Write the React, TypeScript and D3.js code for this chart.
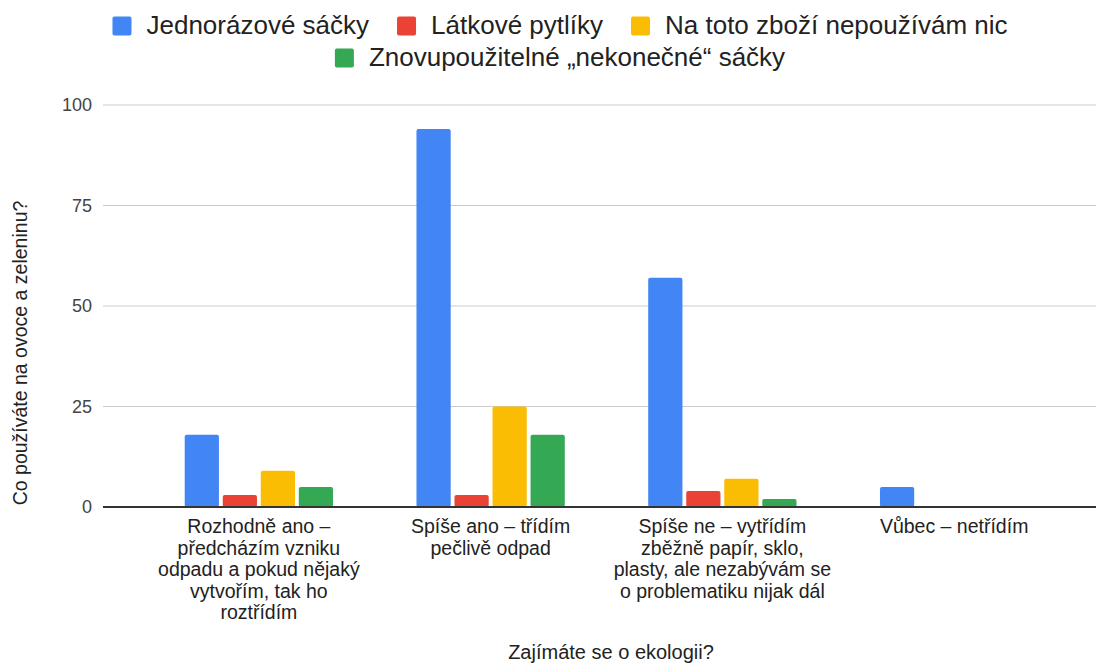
import React from "react";
import * as d3 from "d3";

const categories = [
  ["Rozhodně ano –", "předcházím vzniku", "odpadu a pokud nějaký", "vytvořím, tak ho", "roztřídím"],
  ["Spíše ano – třídím", "pečlivě odpad"],
  ["Spíše ne – vytřídím", "zběžně papír, sklo,", "plasty, ale nezabývám se", "o problematiku nijak dál"],
  ["Vůbec – netřídím"],
];
const seriesNames = [
  "Jednorázové sáčky",
  "Látkové pytlíky",
  "Na toto zboží nepoužívám nic",
  "Znovupoužitelné „nekonečné“ sáčky",
];
const seriesColors = ["#4285F4", "#EA4335", "#FBBC04", "#34A853"];
const jednorazove = [18, 94, 57, 5];
const latkove = [3, 3, 4, 0];
const nic = [9, 25, 7, 0];
const znovu = [5, 18, 2, 0];
const yTicks = [0, 25, 50, 75, 100];
const xTitle = "Zajímáte se o ekologii?";
const yTitle = "Co používáte na ovoce a zeleninu?";

const W = 1098;
const H = 664;
const FONT = "'Liberation Sans', Arial, sans-serif";

let ctx: CanvasRenderingContext2D | null = null;
function measure(text: string, size: number) {
  if (!ctx) ctx = document.createElement("canvas").getContext("2d");
  if (!ctx) return text.length * size * 0.5;
  ctx.font = `${size}px ${FONT}`;
  return ctx.measureText(text).width;
}

export default function App() {
  const series = [jednorazove, latkove, nic, znovu];
  const groups = categories.map((_, i) => i);

  const x = d3.scaleBand<number>().domain(groups).range([143, 1070]).paddingInner(0.36).paddingOuter(0.18);
  const xInner = d3.scaleBand<number>().domain(d3.range(series.length)).range([0, x.bandwidth()]).paddingInner(0.1);
  const y = d3.scaleLinear().domain([0, 100]).range([507, 105]);

  const gridX0 = 103;
  const gridX1 = 1096;

  // legend layout
  const legSize = 26;
  const sq = 19;
  const gapText = 15;
  const gapItem = 28;
  const rows = [[0, 1, 2], [3]];
  const rowY = [26, 58];
  const legendCenter = 560;
  const legendItems: { i: number; x: number; cy: number }[] = [];
  rows.forEach((row, r) => {
    const widths = row.map((i) => sq + gapText + measure(seriesNames[i], legSize));
    const total = d3.sum(widths) + gapItem * (row.length - 1);
    let cx = legendCenter - total / 2;
    row.forEach((i, k) => {
      legendItems.push({ i, x: cx, cy: rowY[r] });
      cx += widths[k] + gapItem;
    });
  });

  return (
    <div style={{ position: "absolute", left: 0, top: 0, width: W, height: H, background: "#fff" }}>
      <svg width={W} height={H} style={{ display: "block", fontFamily: FONT }}>
        <rect width={W} height={H} fill="#fff" />

        {/* legend */}
        {legendItems.map((d) => (
          <g key={d.i}>
            <rect x={d.x} y={d.cy - sq / 2} width={sq} height={sq} rx={2} fill={seriesColors[d.i]} />
            <text x={d.x + sq + gapText} y={d.cy + 8} fontSize={legSize} fill="#222">
              {seriesNames[d.i]}
            </text>
          </g>
        ))}

        {/* gridlines */}
        {yTicks.filter((t) => t !== 0).map((t) => (
          <line key={t} x1={gridX0} x2={gridX1} y1={y(t)} y2={y(t)} stroke="#cccccc" strokeWidth={1} />
        ))}
        {yTicks.map((t) => (
          <text key={t} x={92} y={y(t) + 6} textAnchor="end" fontSize={18} fill="#444">
            {t}
          </text>
        ))}

        {/* bars */}
        {groups.map((g) => (
          <g key={g} transform={`translate(${x(g)},0)`}>
            {series.map((s, k) =>
              s[g] > 0 ? (
                <rect
                  key={k}
                  x={xInner(k)}
                  y={y(s[g])}
                  width={xInner.bandwidth()}
                  height={y(0) - y(s[g])}
                  rx={2}
                  fill={seriesColors[k]}
                />
              ) : null
            )}
          </g>
        ))}

        {/* baseline */}
        <line x1={gridX0} x2={gridX1} y1={y(0)} y2={y(0)} stroke="#333" strokeWidth={2} />

        {/* x labels */}
        {categories.map((lines, g) => (
          <text key={g} textAnchor="middle" fontSize={19.5} fill="#222">
            {lines.map((ln, j) => (
              <tspan key={j} x={(x(g) ?? 0) + x.bandwidth() / 2} y={533 + j * 21.5}>
                {ln}
              </tspan>
            ))}
          </text>
        ))}

        {/* axis titles */}
        <text x={611} y={659} textAnchor="middle" fontSize={20} fill="#222">
          {xTitle}
        </text>
        <text transform="translate(27,353) rotate(-90)" textAnchor="middle" fontSize={19.5} fill="#222">
          {yTitle}
        </text>
      </svg>
    </div>
  );
}
